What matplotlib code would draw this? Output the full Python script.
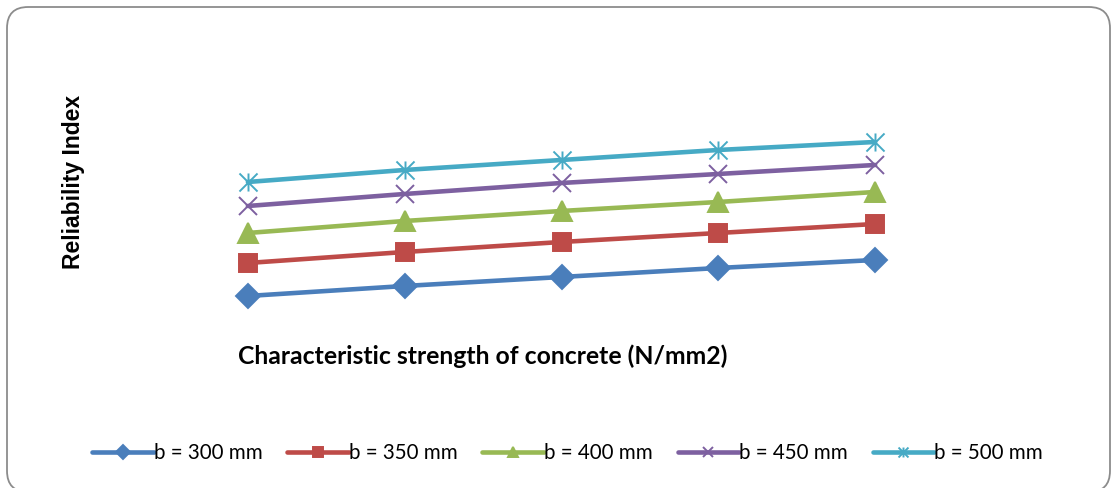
import matplotlib.pyplot as plt
from matplotlib.patches import FancyBboxPatch
from matplotlib.path import Path

# characteristic strength of concrete (N/mm2)
fck = [20, 25, 30, 35, 40]

# reliability index for each beam width
beta_300 = [2.70, 3.20, 3.65, 4.10, 4.50]
beta_350 = [4.35, 4.90, 5.40, 5.85, 6.30]
beta_400 = [5.85, 6.45, 6.95, 7.40, 7.90]
beta_450 = [7.20, 7.80, 8.35, 8.80, 9.25]
beta_500 = [8.40, 9.00, 9.50, 10.00, 10.40]

labels = ['b = 300 mm', 'b = 350 mm', 'b = 400 mm', 'b = 450 mm', 'b = 500 mm']
colors = ['#4A7EBB', '#BE4B48', '#98B954', '#7D60A0', '#46AAC5']

# excel style star: an x with a vertical bar through it
star = Path([(-1, -1), (1, 1), (-1, 1), (1, -1), (0, -1), (0, 1)],
            [Path.MOVETO, Path.LINETO] * 3)
markers = ['D', 's', '^', 'x', star]
msizes = [12.5, 13.5, 14, 13, 13]

plt.rcParams['font.family'] = ['Lato', 'DejaVu Sans']
fig = plt.figure(figsize=(11.13, 4.88), dpi=100)

# rounded chart border, runs off the bottom edge
W, H = 1113, 488
border = FancyBboxPatch((7 / W, -4 / H), 1103 / W, 485 / H,
                        boxstyle='round,pad=0,rounding_size=0.019',
                        transform=fig.transFigure, fill=False,
                        edgecolor='#8c8c8c', linewidth=1.3,
                        mutation_aspect=W / H, clip_on=False)
fig.patches.append(border)

ax = fig.add_axes([0.1523, 0.3238, 0.7044, 0.5533])
series = [beta_300, beta_350, beta_400, beta_450, beta_500]
x = list(range(len(fck)))
for ys, lab, c, m, ms in zip(series, labels, colors, markers, msizes):
    ax.plot(x, ys, color=c, linewidth=3.3, marker=m, markersize=ms,
            markeredgewidth=1.4, solid_capstyle='round', label=lab)

ax.set_xlim(-0.5, len(fck) - 0.5)
ax.set_ylim(1, 14.5)
ax.set_xticks([])
ax.set_yticks([])
for s in ax.spines.values():
    s.set_visible(False)
ax.patch.set_visible(False)

fig.text(0.4335, 0.27, 'Characteristic strength of concrete (N/mm2)',
         ha='center', va='center', fontsize=17.8, fontweight='bold')
fig.text(0.0656, 0.628, 'Reliability Index', ha='center', va='center',
         rotation=90, fontsize=16.5, fontweight='bold',
         family=['Liberation Sans', 'DejaVu Sans'])

fig.legend(loc='center', bbox_to_anchor=(0.510, 0.072), ncol=5,
           frameon=False, fontsize=14.8, handlelength=3.0, handletextpad=0.0,
           columnspacing=1.2, markerscale=0.55)

fig.savefig('out.png', dpi=100)
